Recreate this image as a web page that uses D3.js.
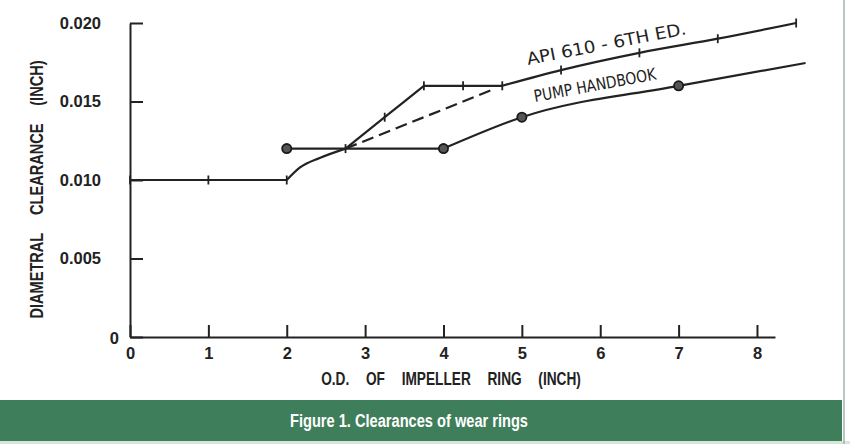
<!DOCTYPE html>
<html>
<head>
<meta charset="utf-8">
<script src="https://cdn.jsdelivr.net/npm/d3@7"></script>
<style>
  html, body { margin: 0; padding: 0; background: #ffffff; }
  svg { display: block; }
</style>
</head>
<body>
<svg id="chart" width="850" height="444"></svg>
<script>
// ---------------- DATA ----------------
const xTicks = [0, 1, 2, 3, 4, 5, 6, 7, 8];
const yTicks = [0, 0.005, 0.010, 0.015, 0.020];
const yTickLabels = ["0", "0.005", "0.010", "0.015", "0.020"];

// API 610 - 6th Ed. curve (marked = drawn with a tick mark)
const apiX      = [0, 1, 2, 2.17, 2.42, 2.75, 3.25, 3.75, 4.25, 4.75, 5.5, 6.5, 7.5, 8.5];
const apiY      = [0.010, 0.010, 0.010, 0.0108, 0.0114, 0.012, 0.014, 0.016, 0.016, 0.016, 0.017, 0.0181, 0.019, 0.020];
const apiMarked = [1, 1, 1, 0, 0, 1, 1, 1, 1, 1, 1, 1, 1, 1];
const apiCorners = [2, 2.75, 3.75, 4.75];

// Pump Handbook curve
const pumpX      = [2, 4, 5, 7, 8.62];
const pumpY      = [0.012, 0.012, 0.014, 0.016, 0.01745];
const pumpMarked = [1, 1, 1, 1, 0];
const pumpCorners = [4];

// dashed connector
const dashX = [2.75, 4.65];
const dashY = [0.012, 0.0158];

const xTitleWords = ["O.D.", "OF", "IMPELLER", "RING", "(INCH)"];
const yTitleWords = ["DIAMETRAL", "CLEARANCE", "(INCH)"];
const apiLabel = "API 610 - 6TH ED.";
const pumpLabel = "PUMP HANDBOOK";
const caption = "Figure 1. Clearances of wear rings";

// ---------------- LAYOUT ----------------
const svg = d3.select("#chart");
const ink = "#222";

const x = d3.scaleLinear().domain([0, 8.23]).range([130, 775]);
const y = d3.scaleLinear().domain([0, 0.020]).range([337, 23]);

// axes
const yAxis = d3.axisLeft(y).tickValues(yTicks)
  .tickFormat((d, i) => yTickLabels[i])
  .tickSizeInner(-13).tickSizeOuter(0).tickPadding(29);
const xAxis = d3.axisBottom(x).tickValues(xTicks)
  .tickFormat(d3.format("d"))
  .tickSizeInner(-12).tickSizeOuter(0).tickPadding(10);

const gx = svg.append("g").attr("transform", `translate(0,${y(0)})`).call(xAxis);
const gy = svg.append("g").attr("transform", `translate(${x(0)},0)`).call(yAxis);

[gx, gy].forEach(g => {
  g.select(".domain").attr("stroke", ink).attr("stroke-width", 2);
  g.selectAll(".tick line").attr("stroke", ink).attr("stroke-width", 2);
  g.selectAll(".tick text")
    .attr("fill", ink)
    .style("font-family", "'Liberation Sans', Arial, sans-serif")
    .style("font-weight", "bold")
    .style("font-size", "16.5px");
});
gy.selectAll(".tick").filter(d => d === 0).select("text").attr("x", -11).attr("dy", "0.42em");

// y-axis title
const yt = svg.append("text")
  .attr("transform", `translate(43,189.5) rotate(-90) scale(0.81,1)`)
  .attr("text-anchor", "middle")
  .attr("fill", ink)
  .style("font-family", "'Liberation Sans', Arial, sans-serif")
  .style("font-weight", "bold")
  .style("font-size", "18px");
yTitleWords.forEach((w, i) => yt.append("tspan").attr("dx", i === 0 ? 0 : 22).text(w));

// x-axis title
const xt = svg.append("text")
  .attr("transform", `translate(451,385) scale(0.76,1)`)
  .attr("text-anchor", "middle")
  .attr("fill", ink)
  .style("font-family", "'Liberation Sans', Arial, sans-serif")
  .style("font-weight", "bold")
  .style("font-size", "18px");
xTitleWords.forEach((w, i) => xt.append("tspan").attr("dx", i === 0 ? 0 : 22).text(w));

// ---------------- SERIES ----------------
function runs(xs, ys, corners) {
  const out = [];
  let cur = [];
  xs.forEach((xv, i) => {
    cur.push([xv, ys[i]]);
    if (corners.includes(xv) && cur.length > 1) {
      out.push(cur);
      cur = [[xv, ys[i]]];
    }
  });
  if (cur.length > 1) out.push(cur);
  return out;
}
const line = d3.line().x(d => x(d[0])).y(d => y(d[1])).curve(d3.curveMonotoneX);

const gApi = svg.append("g");
runs(apiX, apiY, apiCorners).forEach(r => {
  gApi.append("path").attr("d", line(r))
    .attr("fill", "none").attr("stroke", ink).attr("stroke-width", 2.2)
    .attr("stroke-linejoin", "round");
});
apiX.forEach((xv, i) => {
  if (!apiMarked[i]) return;
  gApi.append("line")
    .attr("x1", x(xv)).attr("x2", x(xv))
    .attr("y1", y(apiY[i]) - 4.5).attr("y2", y(apiY[i]) + 4.5)
    .attr("stroke", ink).attr("stroke-width", 1.8);
});

const gPump = svg.append("g");
runs(pumpX, pumpY, pumpCorners).forEach(r => {
  gPump.append("path").attr("d", line(r))
    .attr("fill", "none").attr("stroke", ink).attr("stroke-width", 2.2)
    .attr("stroke-linejoin", "round");
});
pumpX.forEach((xv, i) => {
  if (!pumpMarked[i]) return;
  gPump.append("circle")
    .attr("cx", x(xv)).attr("cy", y(pumpY[i])).attr("r", 4.6)
    .attr("fill", "#555").attr("stroke", "#1a1a1a").attr("stroke-width", 1.8);
});

svg.append("path")
  .attr("d", d3.line().x((d, i) => x(dashX[i])).y((d, i) => y(dashY[i]))(dashX))
  .attr("fill", "none").attr("stroke", ink).attr("stroke-width", 2.2)
  .attr("stroke-dasharray", "12,6");

// series labels
svg.append("text")
  .attr("transform", "translate(528,65) rotate(-11)")
  .attr("textLength", 162).attr("lengthAdjust", "spacingAndGlyphs")
  .attr("fill", ink)
  .style("font-family", "'DejaVu Sans Condensed', 'DejaVu Sans', sans-serif")
  .style("font-size", "17px")
  .text(apiLabel);
svg.append("text")
  .attr("transform", "translate(535,102) rotate(-10.5)")
  .attr("textLength", 124).attr("lengthAdjust", "spacingAndGlyphs")
  .attr("fill", ink)
  .style("font-family", "'DejaVu Sans Condensed', 'DejaVu Sans', sans-serif")
  .style("font-size", "16.5px")
  .text(pumpLabel);

// ---------------- FRAME / CAPTION ----------------
svg.append("rect").attr("x", 0).attr("y", 400).attr("width", 842).attr("height", 41).attr("fill", "#3f7e5a");
svg.append("rect").attr("x", 0).attr("y", 441).attr("width", 850).attr("height", 3).attr("fill", "#d6e6db");
svg.append("line").attr("x1", 844).attr("x2", 844).attr("y1", 0).attr("y2", 444)
  .attr("stroke", "#9fb6a8").attr("stroke-width", 1.5);
svg.append("text")
  .attr("x", 290).attr("y", 427)
  .attr("textLength", 238).attr("lengthAdjust", "spacingAndGlyphs")
  .attr("fill", "#ffffff")
  .style("font-family", "'Liberation Sans', Arial, sans-serif")
  .style("font-weight", "bold")
  .style("font-size", "17.5px")
  .text(caption);
</script>
</body>
</html>
